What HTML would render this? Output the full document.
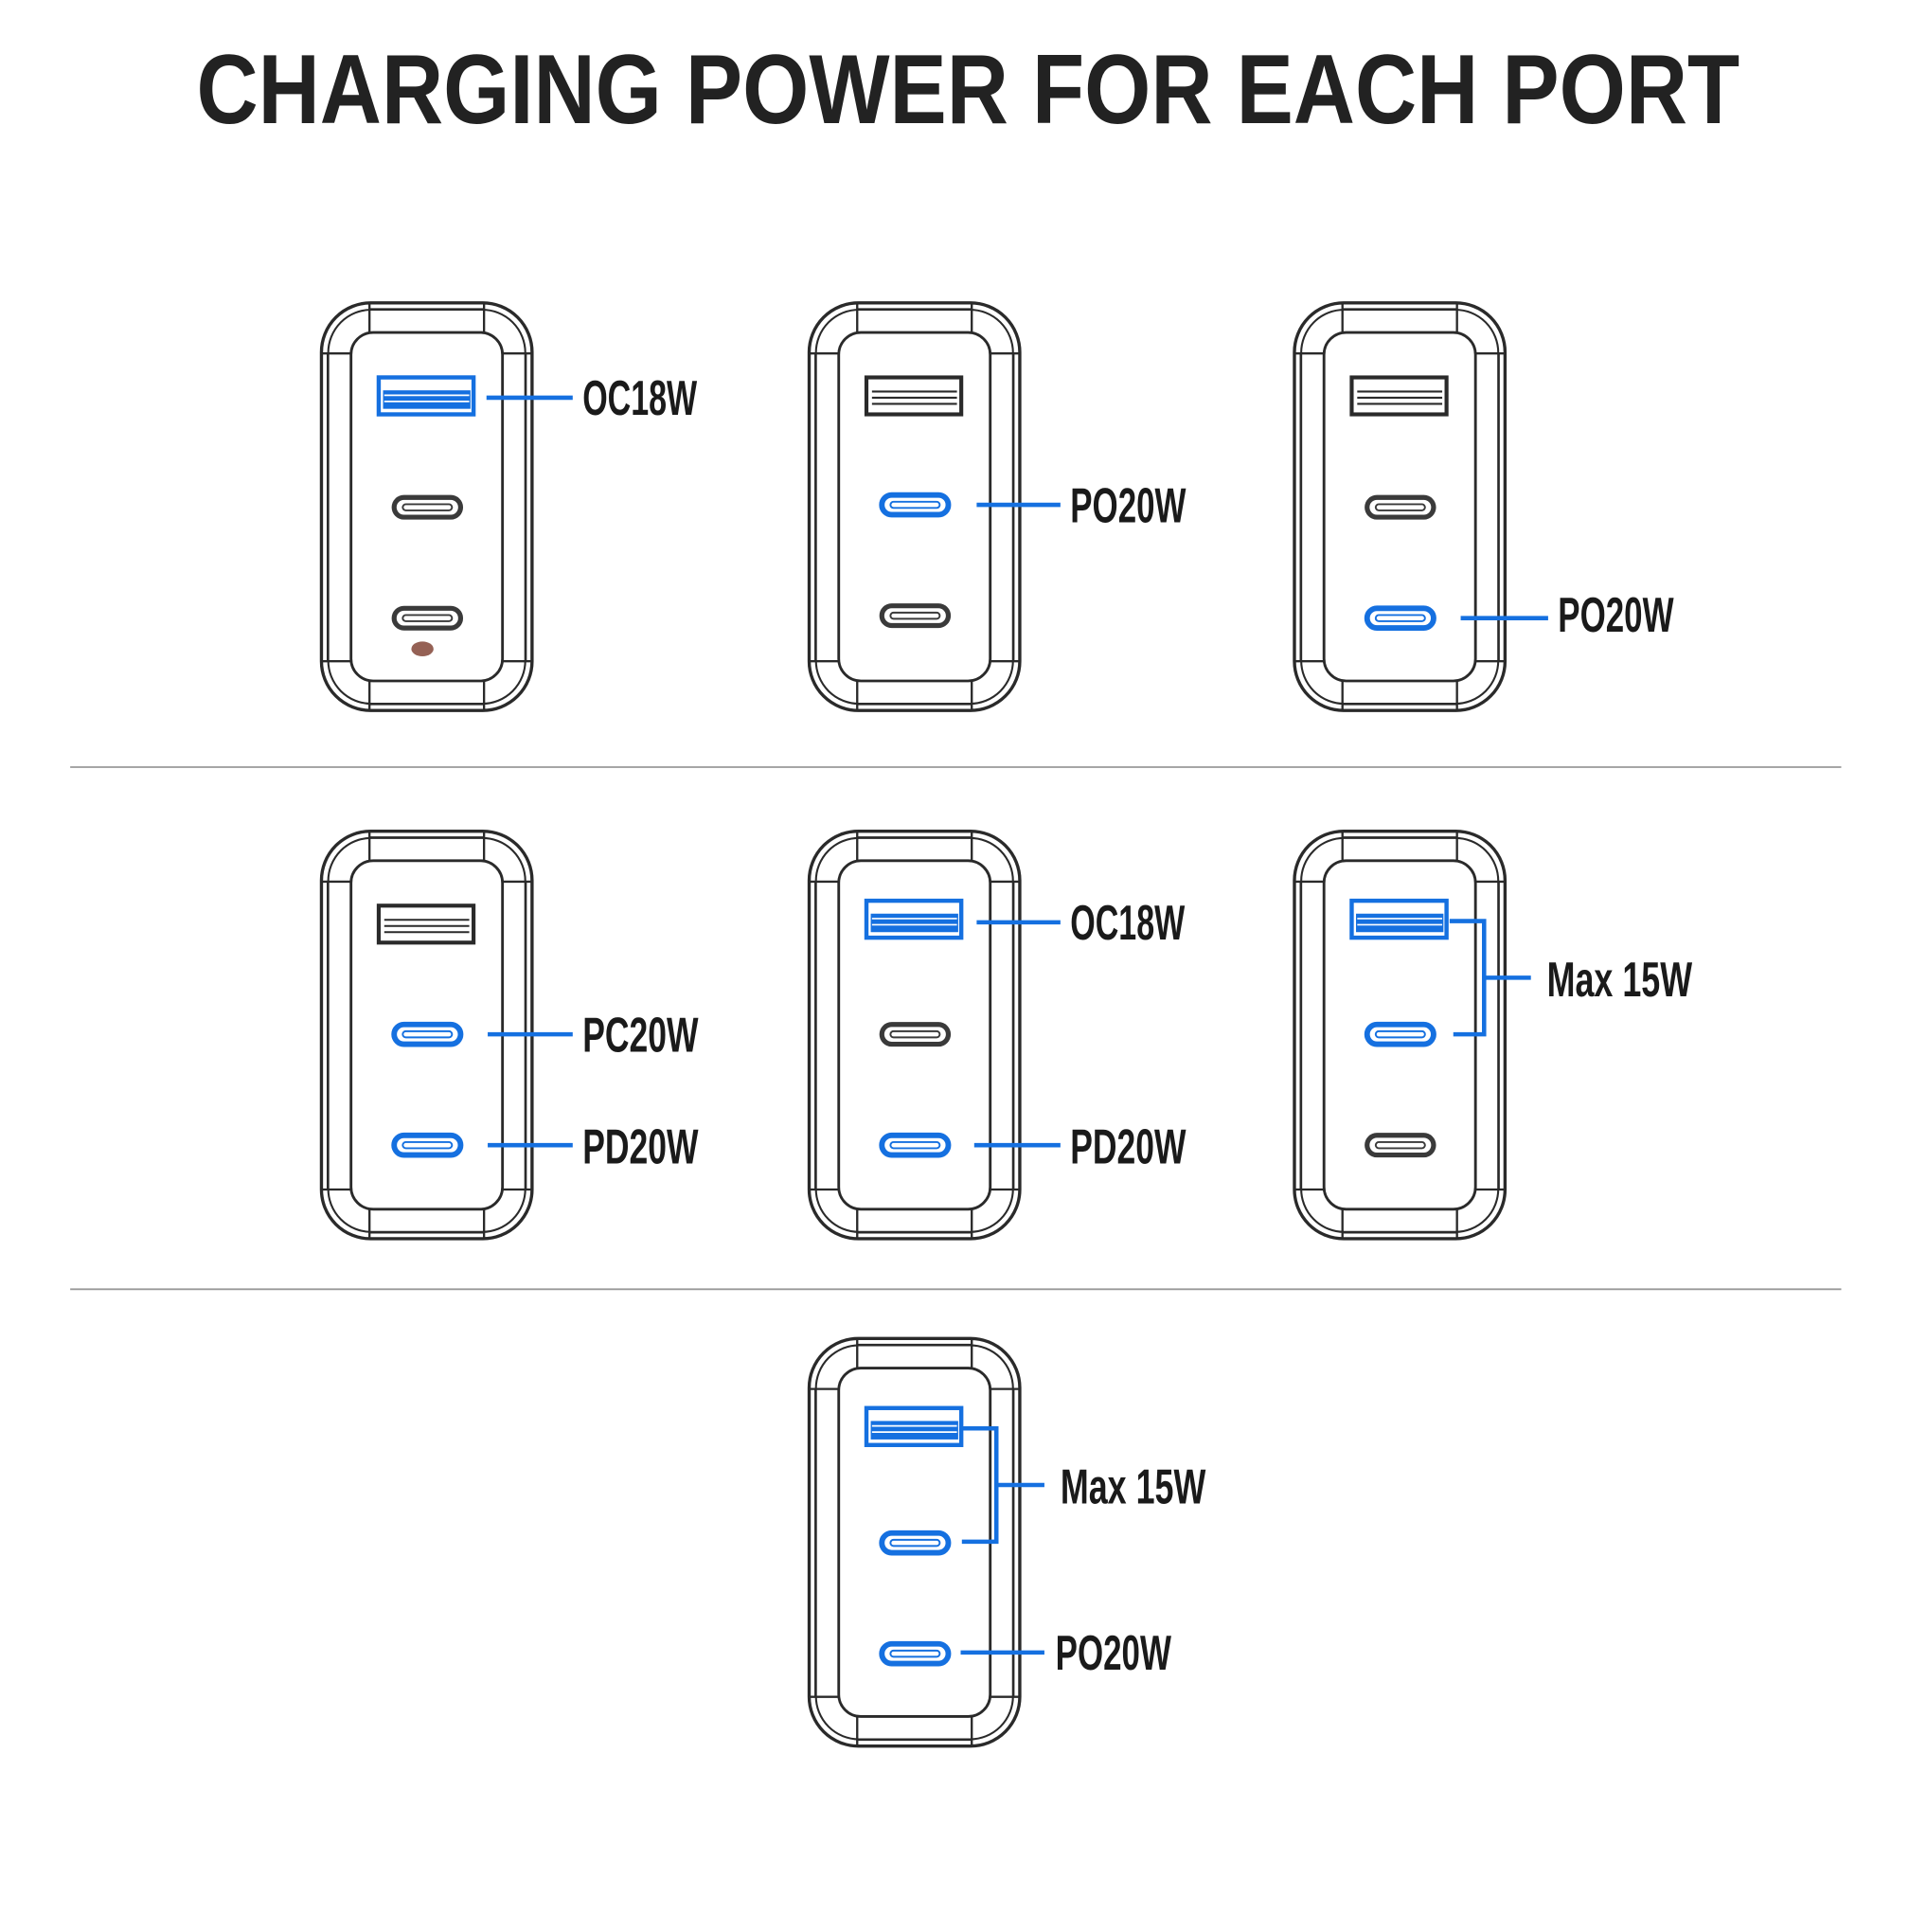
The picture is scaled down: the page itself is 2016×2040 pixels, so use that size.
<!DOCTYPE html>
<html><head><meta charset="utf-8"><style>
html,body{margin:0;padding:0;background:#fff}
svg{display:block}
.lb{font-family:"Liberation Sans Narrow","Liberation Sans",sans-serif;font-weight:bold;font-size:40px;fill:#1a1a1a}
</style></head><body>
<svg width="2016" height="2040" viewBox="0 0 1550 1569" preserveAspectRatio="none" xmlns="http://www.w3.org/2000/svg">
<defs>
<g id="body" fill="none" stroke="#2a2a2a">
<rect x="261" y="246" width="171" height="331" rx="40" stroke-width="2.6"/>
<rect x="266.5" y="251.5" width="160" height="320" rx="35" stroke-width="1.6"/>
<rect x="285" y="270" width="123" height="283" rx="18" stroke-width="2.2"/>
<line x1="300" y1="247" x2="300" y2="270" stroke-width="1.8"/>
<line x1="393" y1="247" x2="393" y2="270" stroke-width="1.8"/>
<line x1="300" y1="553" x2="300" y2="576" stroke-width="1.8"/>
<line x1="393" y1="553" x2="393" y2="576" stroke-width="1.8"/>
<line x1="300" y1="251" x2="393" y2="251" stroke-width="1.5"/>
<line x1="300" y1="572" x2="393" y2="572" stroke-width="1.5"/>
<line x1="262" y1="287" x2="285" y2="287" stroke-width="1.8"/>
<line x1="408" y1="287" x2="431" y2="287" stroke-width="1.8"/>
<line x1="262" y1="537" x2="285" y2="537" stroke-width="1.8"/>
<line x1="408" y1="537" x2="431" y2="537" stroke-width="1.8"/>
<line x1="266" y1="287" x2="266" y2="537" stroke-width="1.5"/>
<line x1="427" y1="287" x2="427" y2="537" stroke-width="1.5"/>
</g>
<g id="ak" fill="none" stroke="#2a2a2a">
<rect x="307.5" y="306.5" width="77" height="30" stroke-width="3.2"/>
<line x1="312" y1="318" x2="381" y2="318" stroke-width="1.6"/>
<line x1="312" y1="323" x2="381" y2="323" stroke-width="1.6"/>
<line x1="312" y1="328" x2="381" y2="328" stroke-width="1.6"/>
</g>
<g id="ab" fill="none" stroke="#1570e0">
<rect x="307.5" y="306.5" width="77" height="30" stroke-width="3.4"/>
<rect x="311" y="317" width="71" height="15" fill="#1570e0" stroke="none"/>
<line x1="312" y1="321" x2="381" y2="321" stroke="#fff" stroke-width="1.3"/>
<line x1="312" y1="326" x2="381" y2="326" stroke="#fff" stroke-width="1.3"/>
</g>
<g id="ck" fill="none" stroke="#3a3a3a">
<rect x="320" y="404" width="54" height="16" rx="8" stroke-width="4"/>
<rect x="327" y="409.5" width="40" height="5" rx="2.5" stroke-width="1.5"/>
</g>
<g id="cb" fill="none" stroke="#1570e0">
<rect x="320" y="404" width="54" height="16" rx="8" stroke-width="4.5"/>
<rect x="327" y="409.5" width="40" height="5" rx="2.5" stroke-width="1.5"/>
</g>
</defs>

<text x="786" y="100" text-anchor="middle" font-family="Liberation Sans, sans-serif" font-weight="bold" font-size="80" fill="#222" textLength="1253" lengthAdjust="spacingAndGlyphs">CHARGING POWER FOR EACH PORT</text>

<line x1="57" y1="623" x2="1495" y2="623" stroke="#999" stroke-width="1.4"/>
<line x1="57" y1="1047" x2="1495" y2="1047" stroke="#999" stroke-width="1.4"/>

<!-- 1 -->
<g>
<use href="#body"/><use href="#ab"/><use href="#ck"/><use href="#ck" y="90"/>
<ellipse cx="343" cy="527" rx="9" ry="6" fill="#7a3a2a" opacity="0.8"/>
<line x1="395" y1="323" x2="465" y2="323" stroke="#1570e0" stroke-width="3.5"/>
<text class="lb" x="473" y="337" textLength="93" lengthAdjust="spacingAndGlyphs">OC18W</text>
</g>
<!-- 2 -->
<g transform="translate(396,0)">
<use href="#body"/><use href="#ak"/><use href="#cb" y="-2"/><use href="#ck" y="88"/>
<line x1="397" y1="410" x2="465" y2="410" stroke="#1570e0" stroke-width="3.5"/>
<text class="lb" x="473" y="424" textLength="94" lengthAdjust="spacingAndGlyphs">PO20W</text>
</g>
<!-- 3 -->
<g transform="translate(790,0)">
<use href="#body"/><use href="#ak"/><use href="#ck"/><use href="#cb" y="90"/>
<line x1="396" y1="502" x2="467" y2="502" stroke="#1570e0" stroke-width="3.5"/>
<text class="lb" x="475" y="513" textLength="94" lengthAdjust="spacingAndGlyphs">PO20W</text>
</g>
<!-- 4 -->
<g transform="translate(0,429)">
<use href="#body"/><use href="#ak"/><use href="#cb" y="-1"/><use href="#cb" y="89"/>
<line x1="396" y1="411" x2="465" y2="411" stroke="#1570e0" stroke-width="3.5"/>
<line x1="396" y1="501" x2="465" y2="501" stroke="#1570e0" stroke-width="3.5"/>
<text class="lb" x="473" y="425" textLength="94" lengthAdjust="spacingAndGlyphs">PC20W</text>
<text class="lb" x="473" y="516" textLength="94" lengthAdjust="spacingAndGlyphs">PD20W</text>
</g>
<!-- 5 -->
<g transform="translate(396,429)">
<use href="#body"/><use href="#ab" y="-4"/><use href="#ck" y="-1"/><use href="#cb" y="89"/>
<line x1="397" y1="320" x2="465" y2="320" stroke="#1570e0" stroke-width="3.5"/>
<line x1="395" y1="501" x2="465" y2="501" stroke="#1570e0" stroke-width="3.5"/>
<text class="lb" x="473" y="334" textLength="93" lengthAdjust="spacingAndGlyphs">OC18W</text>
<text class="lb" x="473" y="516" textLength="94" lengthAdjust="spacingAndGlyphs">PD20W</text>
</g>
<!-- 6 -->
<g transform="translate(790,429)">
<use href="#body"/><use href="#ab" y="-4"/><use href="#cb" y="-1"/><use href="#ck" y="89"/>
<polyline points="387,319 415,319 415,411 390,411" fill="none" stroke="#1570e0" stroke-width="3.5"/>
<line x1="415" y1="365" x2="453" y2="365" stroke="#1570e0" stroke-width="3.5"/>
<text class="lb" x="466" y="380" textLength="118" lengthAdjust="spacingAndGlyphs">Max 15W</text>
</g>
<!-- 7 -->
<g transform="translate(396,841)">
<use href="#body"/><use href="#ab" y="-4"/><use href="#cb" y="0"/><use href="#cb" y="90"/>
<polyline points="385,319 413,319 413,411 385,411" fill="none" stroke="#1570e0" stroke-width="3.5"/>
<line x1="413" y1="365" x2="452" y2="365" stroke="#1570e0" stroke-width="3.5"/>
<line x1="384" y1="501" x2="452" y2="501" stroke="#1570e0" stroke-width="3.5"/>
<text class="lb" x="465" y="380" textLength="118" lengthAdjust="spacingAndGlyphs">Max 15W</text>
<text class="lb" x="461" y="515" textLength="94" lengthAdjust="spacingAndGlyphs">PO20W</text>
</g>
</svg>
</body></html>
